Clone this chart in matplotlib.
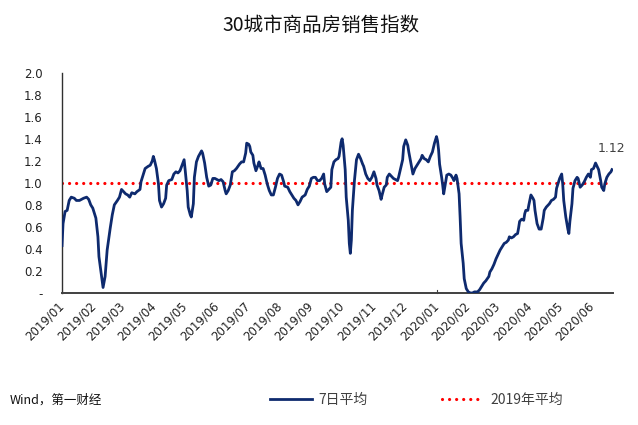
import matplotlib
matplotlib.use('Agg')
import matplotlib.pyplot as plt
import matplotlib.dates as mdates
import pandas as pd

plt.rcParams['font.family'] = ['DejaVu Sans', 'Noto Sans CJK SC']
CJK = ['Noto Sans CJK SC', 'DejaVu Sans']

# 7-day average (day offset from 2019-01-01, index value)
days = [0, 1, 3, 5, 7, 9, 12, 14, 17, 21, 24, 26, 28, 30, 33, 35, 36, 39, 40, 42,
        44, 47, 49, 51, 54, 56, 58, 60, 62, 64, 66, 68, 71, 73, 76, 77, 79, 81, 84, 86,
        88, 89, 90, 92, 94, 95, 97, 99, 101, 102, 104, 107, 109, 111, 113, 115, 117, 119, 120, 122,
        123, 125, 126, 128, 129, 131, 133, 136, 137, 139, 141, 143, 145, 147, 149, 151, 153, 155, 157, 159,
        160, 162, 164, 166, 168, 170, 173, 175, 177, 179, 180, 182, 183, 184, 186, 187, 189, 191, 192, 194,
        196, 198, 200, 202, 204, 206, 208, 210, 212, 214, 216, 217, 220, 222, 224, 226, 228, 230, 232, 234,
        237, 239, 241, 243, 245, 247, 249, 251, 253, 255, 256, 258, 260, 262, 263, 265, 267, 269, 270, 272,
        273, 274, 276, 277, 279, 280, 281, 282, 283, 285, 287, 289, 291, 293, 294, 296, 298, 300, 302, 304,
        306, 307, 309, 311, 312, 314, 316, 317, 319, 321, 323, 325, 327, 328, 330, 332, 333, 335, 337, 338,
        340, 342, 344, 346, 348, 350, 351, 353, 355, 357, 359, 361, 363, 365, 366, 367, 368, 370, 371, 372,
        374, 375, 377, 379, 381, 382, 384, 385, 387, 388, 389, 391, 392, 394, 396, 398, 400, 402, 405, 407,
        409, 411, 413, 416, 417, 419, 421, 423, 425, 427, 429, 431, 433, 435, 436, 438, 440, 442, 444, 445,
        446, 448, 450, 451, 452, 454, 455, 457, 459, 460, 461, 463, 465, 467, 469, 470, 472, 475, 477, 479,
        481, 482, 483, 485, 487, 488, 489, 491, 493, 494, 495, 497, 498, 500, 502, 503, 505, 507, 509, 511,
        513, 515, 516, 518, 520, 521, 523, 525, 526, 528, 529, 531, 533, 535, 536]
vals = [0.43, 0.63, 0.74, 0.75, 0.84, 0.87, 0.86, 0.84, 0.84, 0.86, 0.87, 0.85, 0.80, 0.77, 0.68, 0.51, 0.33, 0.12, 0.05, 0.15,
        0.39, 0.59, 0.71, 0.80, 0.84, 0.87, 0.94, 0.92, 0.90, 0.89, 0.87, 0.91, 0.90, 0.92, 0.94, 1.01, 1.07, 1.13, 1.15, 1.16,
        1.20, 1.24, 1.21, 1.13, 0.99, 0.84, 0.78, 0.81, 0.86, 0.98, 1.02, 1.03, 1.08, 1.10, 1.09, 1.11, 1.16, 1.21, 1.12, 0.93,
        0.78, 0.71, 0.69, 0.81, 1.05, 1.19, 1.24, 1.29, 1.27, 1.18, 1.05, 0.97, 0.98, 1.04, 1.04, 1.03, 1.02, 1.03, 1.01, 0.93,
        0.90, 0.93, 0.98, 1.10, 1.11, 1.13, 1.17, 1.19, 1.19, 1.27, 1.36, 1.35, 1.33, 1.28, 1.25, 1.18, 1.11, 1.16, 1.19, 1.13,
        1.13, 1.07, 0.99, 0.93, 0.89, 0.89, 0.96, 1.04, 1.08, 1.07, 1.01, 0.97, 0.96, 0.92, 0.89, 0.86, 0.84, 0.80, 0.83, 0.87,
        0.89, 0.94, 0.97, 1.04, 1.05, 1.05, 1.02, 1.02, 1.04, 1.08, 0.99, 0.92, 0.94, 0.96, 1.12, 1.19, 1.21, 1.22, 1.24, 1.37,
        1.40, 1.34, 1.12, 0.87, 0.66, 0.45, 0.36, 0.48, 0.75, 1.02, 1.21, 1.26, 1.22, 1.17, 1.15, 1.08, 1.04, 1.02, 1.05, 1.10,
        1.04, 0.98, 0.93, 0.85, 0.89, 0.96, 0.98, 1.05, 1.08, 1.06, 1.04, 1.03, 1.02, 1.05, 1.13, 1.21, 1.33, 1.39, 1.34, 1.28,
        1.18, 1.08, 1.13, 1.16, 1.19, 1.22, 1.25, 1.22, 1.21, 1.19, 1.24, 1.28, 1.36, 1.42, 1.38, 1.30, 1.17, 1.05, 0.98, 0.90,
        1.01, 1.07, 1.08, 1.07, 1.04, 1.02, 1.07, 1.04, 0.90, 0.69, 0.45, 0.27, 0.13, 0.04, 0.01, 0.00, 0.00, 0.01, 0.01, 0.03,
        0.06, 0.09, 0.11, 0.15, 0.19, 0.22, 0.26, 0.31, 0.35, 0.39, 0.42, 0.45, 0.46, 0.48, 0.51, 0.50, 0.51, 0.53, 0.54, 0.59,
        0.65, 0.67, 0.66, 0.72, 0.75, 0.75, 0.80, 0.89, 0.86, 0.84, 0.75, 0.63, 0.58, 0.58, 0.68, 0.75, 0.78, 0.81, 0.84, 0.85,
        0.87, 0.95, 0.98, 1.04, 1.08, 0.99, 0.84, 0.69, 0.58, 0.54, 0.65, 0.81, 0.95, 1.02, 1.05, 1.04, 0.96, 0.98, 1.01, 1.05,
        1.08, 1.05, 1.12, 1.13, 1.18, 1.16, 1.12, 1.02, 0.96, 0.93, 0.99, 1.05, 1.08, 1.10, 1.12]
avg_2019 = 1.0
y_ticks = [0, 0.2, 0.4, 0.6, 0.8, 1.0, 1.2, 1.4, 1.6, 1.8, 2.0]
y_labels = ['-', '0.2', '0.4', '0.6', '0.8', '1.0', '1.2', '1.4', '1.6', '1.8', '2.0']

start = pd.Timestamp('2019-01-01')
dates = start + pd.to_timedelta(days, unit='D')

NAVY = '#0E2A6E'
RED = '#FF0000'
GREY = '#404040'

fig = plt.figure(figsize=(6.38, 4.25), dpi=100)
ax = fig.add_axes([0.0972, 0.3106, 0.8636, 0.5184])

ln, = ax.plot(dates, vals, color=NAVY, lw=2.0, zorder=3, label='7日平均')
avg, = ax.plot([dates[0], dates[-1]], [avg_2019, avg_2019], color=RED, lw=2.3,
               linestyle=(0, (0.01, 2.2)), dash_capstyle='round', zorder=2,
               label='2019年平均')

ax.set_xlim(start, dates[-1] + pd.Timedelta(days=1))
ax.set_ylim(0, 2.0)
ax.set_yticks(y_ticks)
ax.set_yticklabels(y_labels)

ax.xaxis.set_major_locator(mdates.MonthLocator())
ax.xaxis.set_major_formatter(mdates.DateFormatter('%Y/%m'))
ax.tick_params(axis='both', length=0, labelsize=8.5, colors='#222222')
ax.tick_params(axis='y', pad=14)
ax.tick_params(axis='x', pad=8)
for lab in ax.get_xticklabels():
    lab.set_rotation(45)
    lab.set_ha('right')
    lab.set_va('center')
    lab.set_rotation_mode('anchor')

# small year-boundary tick
ax.plot([pd.Timestamp('2020-01-01')] * 2, [0, 0.03], color=GREY, lw=0.8, clip_on=False)

for s in ['top', 'right']:
    ax.spines[s].set_visible(False)
ax.spines['left'].set_color('#303030')
ax.spines['left'].set_linewidth(1.0)
ax.spines['bottom'].set_color(GREY)
ax.spines['bottom'].set_linewidth(1.4)

ax.text(dates[-1], vals[-1] + 0.19, f'{vals[-1]:.2f}', ha='center', va='center',
        fontsize=9, color=GREY)

fig.text(0.503, 0.941, '30城市商品房销售指数', ha='center', va='center',
         fontsize=14, family=CJK, color='#111111')
fig.text(0.015, 0.059, 'Wind，第一财经', ha='left', va='center',
         fontsize=9, family=CJK, color='#111111')

fig.legend([ln, avg], ['7日平均', '2019年平均'], loc='center left',
           bbox_to_anchor=(270 / 638, 0.059), ncol=2, frameon=False,
           handlelength=3.0, handletextpad=0.45, columnspacing=5.4,
           borderpad=0, borderaxespad=0, labelcolor=GREY,
           prop={'family': CJK, 'size': 10})

fig.savefig('out.png', dpi=100, facecolor='white')
